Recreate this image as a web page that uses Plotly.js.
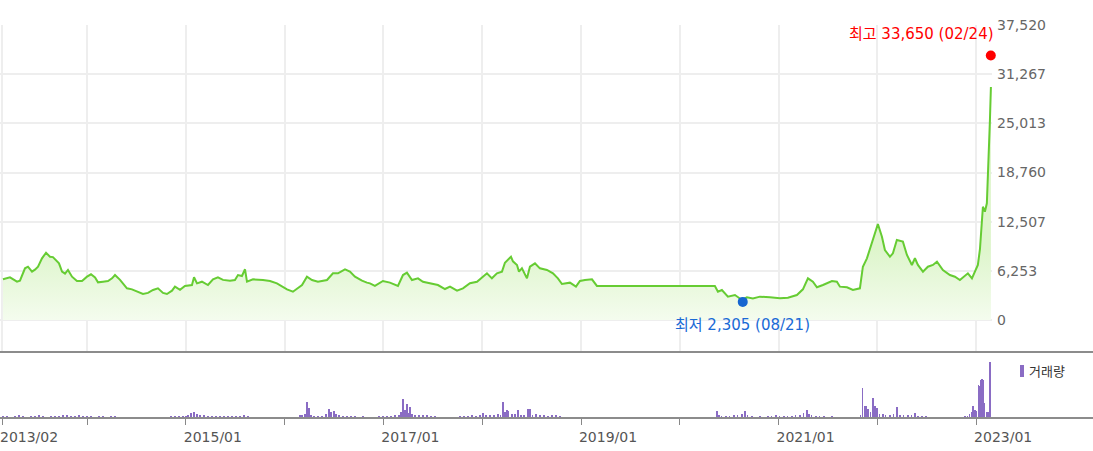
<!DOCTYPE html>
<html>
<head>
<meta charset="utf-8">
<script src="https://cdn.plot.ly/plotly-3.0.1.min.js"></script>
<style>html,body{margin:0;padding:0;background:#fff;}#chart{width:1093px;height:451px;}</style>
</head>
<body>
<div id="chart"></div>
<script>
// Price (close) — x in fractional years
const priceX = [2013.149,2013.220,2013.291,2013.321,2013.372,2013.402,2013.443,2013.473,2013.504,2013.544,2013.585,2013.625,2013.655,2013.696,2013.716,2013.747,2013.777,2013.807,2013.848,2013.898,2013.949,
2014.000,2014.040,2014.081,2014.111,2014.162,2014.212,2014.253,2014.283,2014.334,2014.404,2014.455,2014.506,2014.566,2014.617,2014.668,2014.718,2014.769,2014.809,2014.860,2014.890,2014.941,2014.991,
2015.062,2015.083,2015.113,2015.163,2015.224,2015.275,2015.325,2015.376,2015.447,2015.497,2015.528,2015.568,2015.599,2015.619,2015.680,2015.781,2015.852,2015.922,
2016.024,2016.084,2016.125,2016.176,2016.226,2016.277,2016.337,2016.429,2016.489,2016.540,2016.611,2016.661,2016.712,2016.783,2016.833,2016.864,2016.914,2016.995,
2017.066,2017.147,2017.198,2017.238,2017.289,2017.350,2017.400,2017.491,2017.552,2017.623,2017.674,2017.745,2017.805,2017.876,2017.947,
2018.007,2018.048,2018.098,2018.149,2018.200,2018.230,2018.291,2018.311,2018.352,2018.372,2018.402,2018.453,2018.483,2018.534,2018.584,2018.655,2018.716,2018.766,2018.807,2018.888,2018.949,2018.989,
2019.040,2019.111,2019.161,2020.355,2020.386,2020.426,2020.487,2020.558,2020.629,2020.679,2020.740,2020.811,2020.912,
2021.013,2021.094,2021.185,2021.246,2021.297,2021.347,2021.388,2021.449,2021.540,2021.590,2021.621,2021.692,2021.752,2021.823,2021.853,2021.894,2021.944,
2022.005,2022.046,2022.076,2022.127,2022.157,2022.197,2022.258,2022.299,2022.349,2022.380,2022.410,2022.461,2022.511,2022.562,2022.603,2022.663,2022.734,2022.785,2022.835,2022.916,2022.957,
2023.017,2023.038,2023.068,2023.088,2023.108,2023.129,2023.139,2023.149];
const priceY = [5180,5430,4870,5000,6580,6780,6150,6400,6780,7840,8560,8050,8000,7420,7200,6150,5900,6360,5510,4960,4960,
5510,5810,5400,4790,4870,4960,5300,5720,5100,4030,3900,3650,3310,3450,3820,4030,3450,3310,3730,4240,3850,4330,
4450,5430,4660,4870,4450,5170,5430,5100,5000,5090,5720,5600,6450,4870,5170,5090,4960,4660,
3900,3600,4030,4450,5510,5090,4870,5090,5940,5940,6450,6150,5510,5000,4750,4660,4330,4960,
4750,4330,5720,6020,5090,5300,4870,4580,4450,3940,4240,3730,4030,4670,4870,
5510,5940,5300,5940,6150,7290,8050,7460,7000,6150,6570,5300,6780,7210,6570,6360,5940,5300,4580,4750,4240,4960,
5090,5170,4330,4330,3600,3820,2970,3180,2550,2880,2750,2970,2880,
2760,2840,3180,3900,5300,4870,4160,4450,4960,4870,4240,4160,3820,4030,6780,7840,9760,
12210,10600,8900,8050,8480,10180,9970,8270,7000,7850,7000,6150,6780,7000,7420,6360,5720,5500,5090,5940,5300,
7000,9000,14410,13770,14840,21000,25440,29640];

// Volume (relative units)
const volX = [2013.149,2013.190,2013.230,2013.271,2013.311,2013.352,2013.392,2013.433,2013.473,2013.514,2013.554,2013.595,2013.635,2013.676,2013.716,2013.757,2013.797,2013.838,2013.878,2013.919,2013.959,
2014.000,2014.040,2014.081,2014.121,2014.162,2014.202,2014.243,2014.283,2014.324,2014.364,2014.405,2014.445,2014.486,2014.526,2014.567,2014.607,2014.648,2014.688,2014.729,2014.769,2014.810,2014.850,2014.891,2014.931,2014.972,
2015.002,2015.022,2015.053,2015.083,2015.113,2015.144,2015.184,2015.225,2015.265,2015.306,2015.346,2015.387,2015.427,2015.468,2015.508,2015.548,2015.589,2015.629,2015.670,2015.710,2015.751,2015.791,2015.832,2015.872,
2016.155,2016.176,2016.206,2016.226,2016.246,2016.267,2016.297,2016.337,2016.378,2016.418,2016.449,2016.469,2016.499,2016.520,2016.550,2016.591,2016.631,2016.672,2016.712,2016.753,2016.793,2016.834,2016.874,2016.955,2016.995,
2017.036,2017.076,2017.117,2017.157,2017.177,2017.198,2017.218,2017.238,2017.258,2017.269,2017.289,2017.319,2017.360,2017.400,2017.441,2017.481,2017.522,2017.572,2017.623,2017.724,2017.775,2017.815,2017.856,2017.896,2017.937,2017.977,
2018.007,2018.038,2018.078,2018.119,2018.159,2018.189,2018.210,2018.230,2018.250,2018.270,2018.301,2018.331,2018.362,2018.392,2018.422,2018.463,2018.483,2018.513,2018.544,2018.584,2018.625,2018.665,2018.706,2018.746,2018.787,2018.827,2018.888,2018.939,2018.989,
2019.040,2019.090,2019.141,
2020.376,2020.396,2020.426,2020.467,2020.507,2020.548,2020.588,2020.629,2020.659,2020.689,2020.730,2020.770,2020.811,2020.851,2020.892,2020.932,2020.973,
2021.013,2021.054,2021.094,2021.135,2021.175,2021.216,2021.256,2021.287,2021.307,2021.337,2021.378,2021.418,2021.459,2021.499,2021.540,2021.580,2021.621,2021.671,2021.722,2021.772,2021.833,2021.853,2021.874,2021.884,2021.904,2021.914,2021.934,2021.955,2021.975,2021.995,
2022.025,2022.056,2022.086,2022.127,2022.167,2022.198,2022.228,2022.268,2022.309,2022.349,2022.380,2022.410,2022.451,2022.491,2022.531,2022.582,2022.632,2022.683,2022.734,2022.784,2022.835,2022.886,2022.916,2022.936,2022.957,2022.967,2022.987,
2023.007,2023.027,2023.038,2023.048,2023.058,2023.068,2023.078,2023.088,2023.108,2023.119,2023.139];
const volY = [20,20,10,20,30,20,10,20,20,30,20,10,20,20,20,30,30,20,20,30,20,
20,20,10,20,20,10,20,20,10,10,10,10,10,5,10,10,10,10,10,5,10,20,20,20,20,
20,30,50,60,40,30,30,20,20,20,20,20,20,20,20,20,30,20,10,10,10,10,10,5,
30,30,40,160,100,30,20,20,20,40,90,60,70,40,30,20,20,20,20,10,20,10,10,20,20,
20,20,30,30,60,190,80,140,50,110,40,30,30,30,30,20,20,10,10,10,20,20,20,30,20,30,
50,30,30,30,40,30,160,60,80,70,40,40,80,30,30,90,90,30,40,30,30,20,30,30,20,10,10,10,10,
10,10,10,
70,30,20,20,20,30,30,40,70,30,20,10,20,10,20,20,30,
20,20,20,20,30,30,50,80,40,30,20,20,20,10,20,10,10,5,5,5,30,300,120,120,90,90,60,200,120,100,
40,40,30,30,40,110,30,30,30,30,50,20,20,20,10,10,10,5,5,10,10,20,20,40,60,120,80,
70,330,320,380,390,380,180,150,60,60,560];

// Axis ticks
const yTickVals = [0,6253,12507,18760,25013,31267,37520];
const yTickText = ['0','6,253','12,507','18,760','25,013','31,267','37,520'];
const xTickVals = [2013.140,2014,2015,2016,2017,2018,2019,2020,2021,2022,2023];
const xTickText = ['2013/02','','2015/01','','2017/01','','2019/01','','2021/01','','2023/01'];

// Highest / lowest
const maxX = 2023.148, maxY = 33650, maxLabel = '최고 33,650 (02/24)';
const minX = 2020.637, minY = 2305, minLabel = '최저 2,305 (08/21)';
const volLegend = '거래량';

const FONT = 'DejaVu Sans, Noto Sans CJK KR, sans-serif';
const xRange = [2013.119, 2023.160];
const H = 451, T = 25, B = 33, plotH = H - T - B;
const splitFrac = (418 - 352) / plotH;
const xRight = 1093 / 992;

const traces = [
  {
    type: 'scatter', mode: 'lines', x: priceX, y: priceY, xaxis: 'x', yaxis: 'y',
    line: {color: '#66cc33', width: 2},
    fill: 'tozeroy',
    fillgradient: {type: 'vertical', start: 0, stop: 9000,
      colorscale: [[0, 'rgb(244,252,238)'], [1, 'rgb(222,245,204)']]},
    hoverinfo: 'skip', showlegend: false
  },
  {
    type: 'scatter', mode: 'markers', x: [maxX], y: [maxY], xaxis: 'x', yaxis: 'y', cliponaxis: false,
    marker: {color: '#ff0000', size: 10}, showlegend: false, hoverinfo: 'skip'
  },
  {
    type: 'scatter', mode: 'markers', x: [minX], y: [minY], xaxis: 'x', yaxis: 'y', cliponaxis: false,
    marker: {color: '#1666d0', size: 10}, showlegend: false, hoverinfo: 'skip'
  },
  {
    type: 'bar', x: volX, y: volY, xaxis: 'x2', yaxis: 'y2', width: 0.012,
    marker: {color: '#8a6cc4', line: {width: 0}}, showlegend: false, hoverinfo: 'skip'
  }
];

const layout = {
  width: 1093, height: 451,
  margin: {l: 0, r: 101, t: T, b: B, pad: 0},
  paper_bgcolor: '#ffffff', plot_bgcolor: '#ffffff',
  font: {family: FONT, size: 14, color: '#666'},
  bargap: 0,
  xaxis: {
    type: 'linear', range: xRange, anchor: 'y', domain: [0, 1],
    tickvals: xTickVals, showticklabels: false, ticks: '',
    showgrid: true, gridcolor: '#eeeeee', gridwidth: 2, zeroline: false, showline: false
  },
  xaxis2: {
    type: 'linear', range: xRange, anchor: 'y2', matches: 'x', domain: [0, 1],
    tickvals: xTickVals, ticktext: xTickText, ticks: 'outside', ticklen: 6, tickwidth: 1, tickcolor: '#888',
    ticklabelshift: 27, ticklabeloverflow: 'allow', tickfont: {family: FONT, size: 14, color: '#555'},
    showgrid: false, zeroline: false, showline: false
  },
  yaxis: {
    domain: [splitFrac, 1], range: [-4070, 37520], side: 'right', anchor: 'x',
    tickvals: yTickVals, ticktext: yTickText, ticks: '', ticklabelstandoff: 4,
    tickfont: {family: FONT, size: 14, color: '#666'},
    showgrid: true, gridcolor: '#eeeeee', gridwidth: 2, zeroline: false, showline: false
  },
  yaxis2: {
    domain: [0, splitFrac], range: [0, 660], anchor: 'x2',
    showticklabels: false, ticks: '', showgrid: false, zeroline: false, showline: false
  },
  shapes: [
    {type: 'line', xref: 'paper', yref: 'paper', x0: 0, x1: xRight, y0: splitFrac, y1: splitFrac,
     line: {color: '#8c8c8c', width: 2}},
    {type: 'line', xref: 'paper', yref: 'paper', x0: 0, x1: xRight, y0: 0, y1: 0,
     line: {color: '#8c8c8c', width: 2}},
    {type: 'rect', xref: 'paper', yref: 'paper', x0: 1020/992, x1: 1024/992,
     y0: (418-377)/plotH, y1: (418-365)/plotH, fillcolor: '#8a6cc4', line: {width: 0}}
  ],
  annotations: [
    {x: maxX, y: maxY, xref: 'x', yref: 'y', text: maxLabel, showarrow: false,
     xanchor: 'right', yanchor: 'middle', xshift: 5, yshift: 21,
     font: {family: FONT, size: 15, color: '#ff0000'}},
    {x: minX, y: minY, xref: 'x', yref: 'y', text: minLabel, showarrow: false,
     xanchor: 'center', yanchor: 'middle', xshift: 0, yshift: -23,
     font: {family: FONT, size: 15, color: '#1a6ad6'}},
    {x: 1027/992, y: (418-371)/plotH, xref: 'paper', yref: 'paper', text: volLegend, showarrow: false,
     xanchor: 'left', yanchor: 'middle', font: {family: FONT, size: 13, color: '#333'}}
  ]
};

Plotly.newPlot('chart', traces, layout, {displayModeBar: false, staticPlot: true});
</script>
</body>
</html>
